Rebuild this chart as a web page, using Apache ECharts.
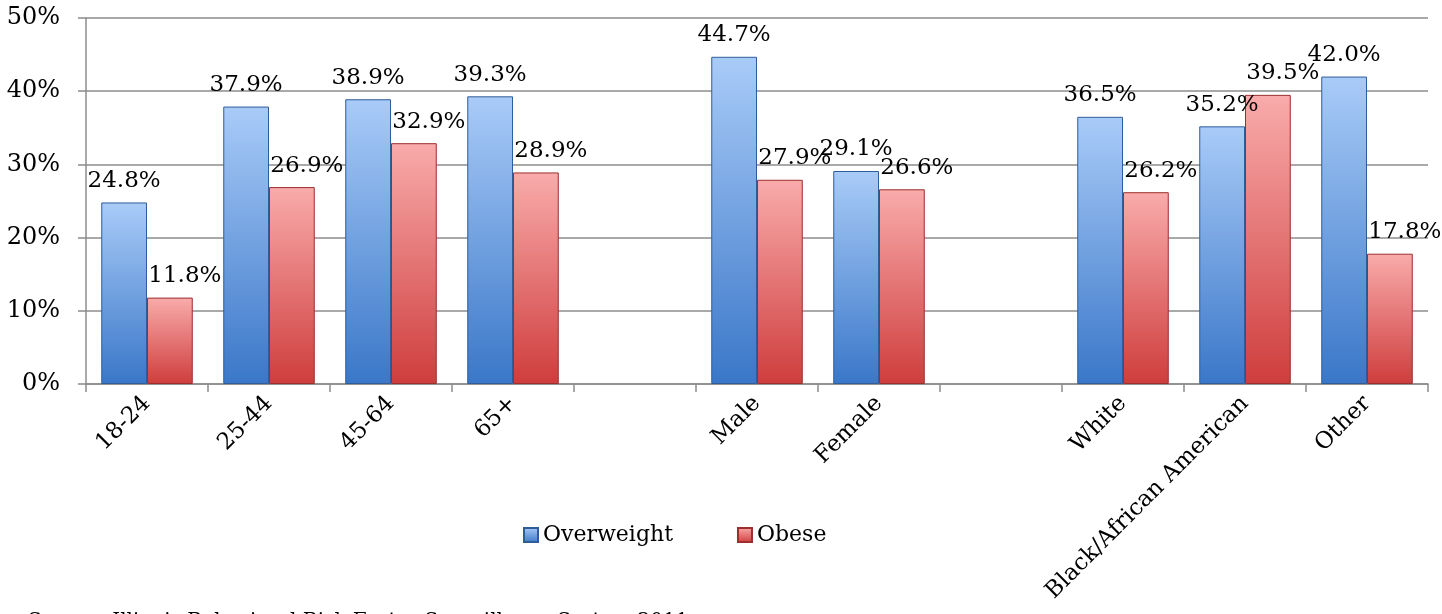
<!DOCTYPE html>
<html>
<head>
<meta charset="utf-8">
<script src="https://cdn.jsdelivr.net/npm/echarts@6/dist/echarts.min.js"></script>
<style>
html,body{margin:0;padding:0;background:#fff;}
#chart{width:1442px;height:614px;}
</style>
</head>
<body>
<div id="chart"></div>
<script>
var categories = ['18-24','25-44','45-64','65+','','Male','Female','','White','Black/African American','Other'];
var overweight = [24.8,37.9,38.9,39.3,null,44.7,29.1,null,36.5,35.2,42.0];
var obese = [11.8,26.9,32.9,28.9,null,27.9,26.6,null,26.2,39.5,17.8];
var yTicks = [0,10,20,30,40,50];

var FONT = 'DejaVu Serif';
var chart = echarts.init(document.getElementById('chart'));
function grad(top, bottom){
  return new echarts.graphic.LinearGradient(0,0,0,1,[{offset:0,color:top},{offset:1,color:bottom}]);
}
chart.setOption({
  animation:false,
  textStyle:{fontFamily:FONT},
  grid:{left:86,right:14,top:18,bottom:230},
  legend:{
    data:['Overweight','Obese'],
    left:518, top:519, itemWidth:14, itemHeight:14, itemGap:64,
    icon:'rect',
    textStyle:{fontFamily:FONT,fontSize:22,color:'#000'}
  },
  xAxis:{
    type:'category', data:categories,
    axisLine:{lineStyle:{color:'#8c8c8c',width:1.5}},
    axisTick:{show:true,length:8,lineStyle:{color:'#8c8c8c',width:1.5}},
    axisLabel:{rotate:45,interval:0,fontFamily:FONT,fontSize:23,color:'#000',margin:16}
  },
  yAxis:{
    type:'value', min:yTicks[0], max:yTicks[yTicks.length-1], interval:10,
    axisLine:{show:true,lineStyle:{color:'#8c8c8c',width:1.5}},
    axisTick:{show:true,length:8,lineStyle:{color:'#8c8c8c',width:1.5}},
    splitLine:{lineStyle:{color:'#8c8c8c',width:1.5}},
    axisLabel:{formatter:function(v){return v+'%';},fontFamily:FONT,fontSize:24,color:'#000',margin:26}
  },
  series:[
    {name:'Overweight',type:'bar',data:overweight,barGap:'0%',barCategoryGap:'25%',
     itemStyle:{color:grad('#a9cbf8','#3a77c8'),borderColor:'#2e5d9a',borderWidth:1},
     label:{show:true,position:'top',distance:10,fontFamily:FONT,fontSize:23,color:'#000',
       formatter:function(p){return p.value.toFixed(1)+'%';}}},
    {name:'Obese',type:'bar',data:obese,
     itemStyle:{color:grad('#f9abab','#cf3d3d'),borderColor:'#9c2e2e',borderWidth:1},
     label:{show:true,position:'top',distance:10,offset:[15,0],fontFamily:FONT,fontSize:23,color:'#000',
       formatter:function(p){return p.value.toFixed(1)+'%';}}}
  ],
  graphic:[{type:'text',left:28,top:612,style:{text:'Source: Illinois Behavioral Risk Factor Surveillance System 2011',fontFamily:FONT,fontSize:20,fill:'#000'}}]
});
</script>
</body>
</html>
